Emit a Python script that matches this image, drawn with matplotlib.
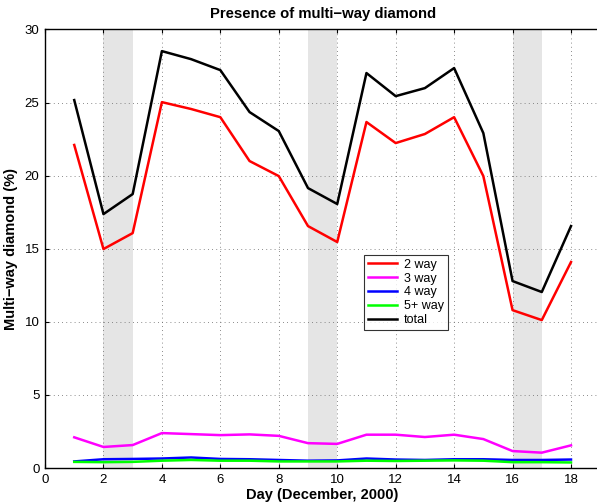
import matplotlib
matplotlib.use('Agg')
import matplotlib.pyplot as plt

plt.rcParams['font.family'] = ['Liberation Sans', 'DejaVu Sans']

# Dados
dias = list(range(1, 19))
dois_way = [22.1, 14.98, 16.07, 25.03, 24.56, 24.0, 21.0, 19.97, 16.55, 15.46,
            23.67, 22.23, 22.85, 24.0, 19.97, 10.8, 10.12, 14.09]
tres_way = [2.1, 1.44, 1.57, 2.39, 2.32, 2.25, 2.3, 2.2, 1.7, 1.65,
            2.28, 2.28, 2.12, 2.28, 1.98, 1.16, 1.05, 1.55]
quatro_way = [0.45, 0.6, 0.62, 0.65, 0.72, 0.62, 0.6, 0.55, 0.5, 0.52,
              0.65, 0.58, 0.55, 0.6, 0.6, 0.55, 0.55, 0.58]
cinco_way = [0.42, 0.4, 0.42, 0.5, 0.55, 0.5, 0.5, 0.45, 0.45, 0.45,
             0.5, 0.48, 0.5, 0.52, 0.5, 0.4, 0.4, 0.38]
total = [25.17, 17.37, 18.74, 28.52, 27.97, 27.22, 24.35, 23.05, 19.15, 18.06,
         27.02, 25.44, 25.99, 27.36, 22.91, 12.79, 12.04, 16.55]
fins_de_semana = [(2, 3), (9, 10), (16, 17)]

fig = plt.figure(figsize=(5.97, 5.04), dpi=100)
ax = fig.add_axes([0.0754, 0.0714, 0.93, 0.8701])

for a, b in fins_de_semana:
    ax.axvspan(a, b, color='#e5e5e5', lw=0, zorder=0)

ax.plot(dias, dois_way, color='#ff0000', lw=1.8, label='2 way')
ax.plot(dias, tres_way, color='#ff00ff', lw=1.8, label='3 way')
ax.plot(dias, quatro_way, color='#0000ff', lw=1.8, label='4 way')
ax.plot(dias, cinco_way, color='#00ff00', lw=1.8, label='5+ way')
ax.plot(dias, total, color='black', lw=1.8, label='total')

ax.set_xlim(0, 19)
ax.set_ylim(0, 30)
ax.set_xticks(range(0, 19, 2))
ax.set_yticks(range(0, 31, 5))
ax.tick_params(direction='in', labelsize=9.5, length=3, top=True, pad=4)
ax.grid(True, linestyle=(0, (1, 4)), color='#666666', lw=0.6)
for s in ax.spines.values():
    s.set_linewidth(1.0)

ax.set_title('Presence of multi\u2212way diamond', fontsize=10.7, fontweight='bold', pad=8)
ax.set_xlabel('Day (December, 2000)', fontsize=10.5, fontweight='bold', labelpad=2)
ax.set_ylabel('Multi\u2212way diamond (%)', fontsize=10.5, fontweight='bold', labelpad=5)

leg = ax.legend(loc='upper left', bbox_to_anchor=(0.575, 0.486), fontsize=9,
                frameon=True, fancybox=False, edgecolor='black', handlelength=2.3,
                borderpad=0.3, labelspacing=0.15, handletextpad=0.6, borderaxespad=0)
leg.get_frame().set_linewidth(0.8)

fig.savefig('out.png', dpi=100)
